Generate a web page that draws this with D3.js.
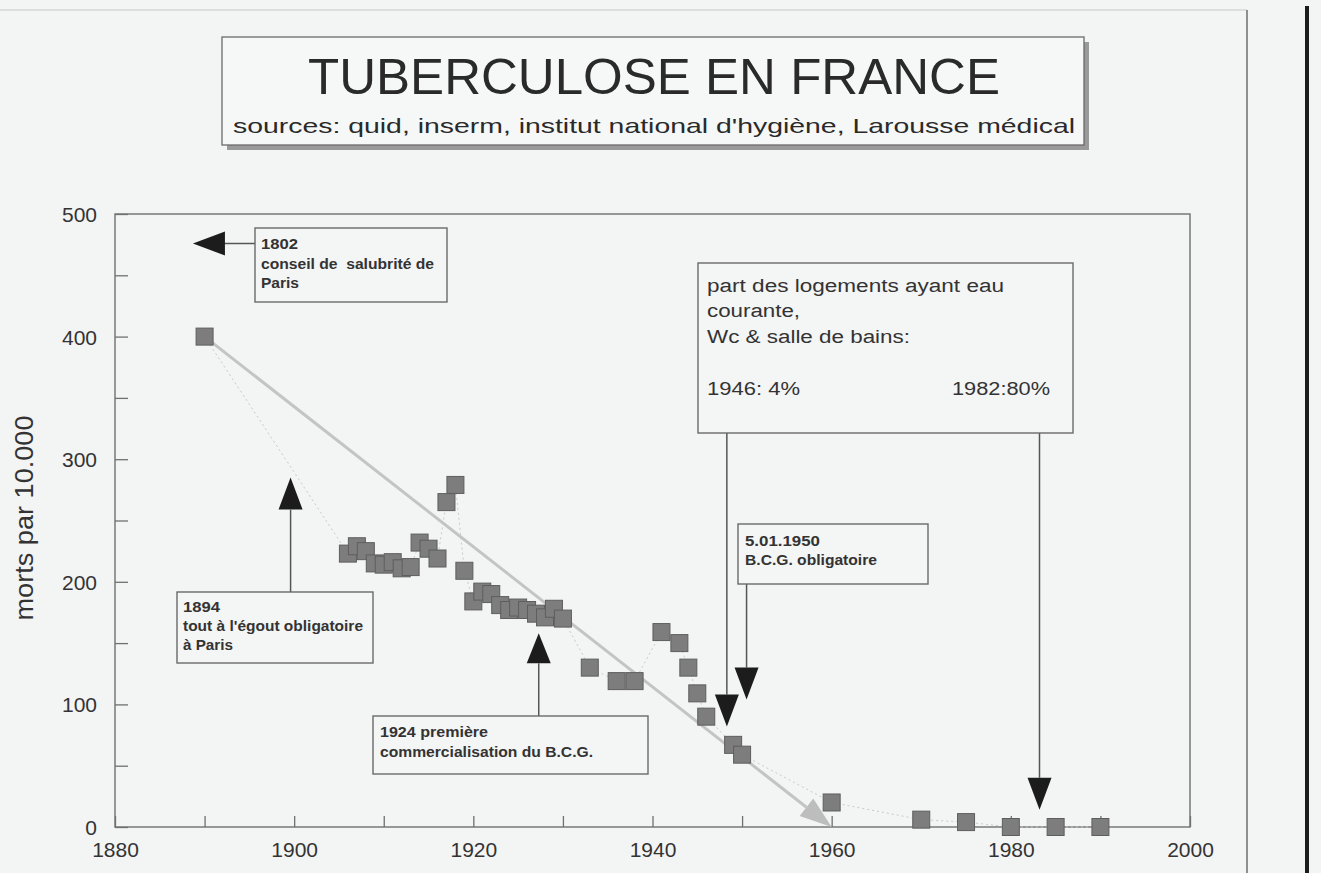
<!DOCTYPE html>
<html><head><meta charset="utf-8">
<script src="https://cdn.jsdelivr.net/npm/d3@7"></script>
<style>body{margin:0;background:#f3f4f4;overflow:hidden}</style>
</head><body>
<svg id="c" width="1321" height="873"></svg>
<script>
// ---- data ----
const years  = [1890,1906,1907,1908,1909,1910,1911,1912,1913,1914,1915,1916,1917,1918,1919,1920,1921,1922,1923,1924,1925,1926,1927,1928,1929,1930,1933,1936,1938,1941,1943,1944,1945,1946,1949,1950,1960,1970,1975,1980,1985,1990];
const deaths = [400,223,229,225,215,214,216,211,212,232,227,219,265,279,209,184,192,190,181,177,179,177,174,171,178,170,130,119,119,159,150,130,109,90,67,59,20,6,4,0,0,0];
const xLabelTicks = [1880,1900,1920,1940,1960,1980,2000];
const xMinorTicks = [1880,1890,1900,1910,1920,1930,1940,1950,1960,1970,1980,1990,2000];
const yLabelTicks = [0,100,200,300,400,500];
const yMinorTicks = [0,50,100,150,200,250,300,350,400,450,500];
const trendStart = [1890,400], trendEnd = [1960,0];
const titleText = "TUBERCULOSE EN FRANCE";
const subtitleText = "sources: quid, inserm, institut national d'hygiène, Larousse médical";
const yTitle = "morts par 10.000";
const note1802 = ["1802","conseil de  salubrité de","Paris"];
const note1894 = ["1894","tout à l'égout obligatoire","à Paris"];
const note1924 = ["1924 première","commercialisation du B.C.G."];
const note1950 = ["5.01.1950","B.C.G. obligatoire"];
const housingLines = ["part des logements ayant eau","courante,","Wc & salle de bains:"];
const housingValues = ["1946: 4%","1982:80%"];
// arrow tips in data coordinates [year, value]
const arrow1802 = [1888.7,476], arrow1894 = [1899.6,285], arrow1924 = [1927.3,158],
      arrow1950 = [1950.5,104], arrow1946 = [1948.3,82], arrow1982 = [1983.2,14];

// ---- scales ----
const svg = d3.select("#c");
const x = d3.scaleLinear().domain([1880,2000]).range([115,1190]);
const y = d3.scaleLinear().domain([0,500]).range([827,214]);
const FONT = "'Liberation Sans', Arial, Helvetica, sans-serif";
const NARROW = "'Liberation Sans Narrow', 'Liberation Sans', Arial, sans-serif";

svg.append("rect").attr("width",1321).attr("height",873).attr("fill","#f3f4f4");
// scan borders
svg.append("line").attr("x1",0).attr("x2",1247).attr("y1",10).attr("y2",10).attr("stroke","#c8c8c8").attr("stroke-width",1);
svg.append("line").attr("x1",1247).attr("x2",1247).attr("y1",10).attr("y2",873).attr("stroke","#6e6e6e").attr("stroke-width",1.5);
svg.append("line").attr("x1",1307).attr("x2",1307).attr("y1",6).attr("y2",873).attr("stroke","#1c1c1c").attr("stroke-width",4);

// ---- title box ----
svg.append("rect").attr("x",227).attr("y",42).attr("width",862).attr("height",108).attr("fill","#9a9a9a");
svg.append("rect").attr("x",222).attr("y",37).attr("width",862).attr("height",108).attr("fill","#f6f7f7").attr("stroke","#6a6a6a").attr("stroke-width",1.3);
svg.append("text").attr("x",308).attr("y",94).attr("font-family",FONT).attr("font-size",50).attr("fill","#2a2a2a")
  .attr("textLength",692).attr("lengthAdjust","spacingAndGlyphs").text(titleText);
svg.append("text").attr("x",233).attr("y",133).attr("font-family",FONT).attr("font-size",21).attr("fill","#2a2a2a")
  .attr("textLength",842).attr("lengthAdjust","spacingAndGlyphs").text(subtitleText);

// ---- plot frame ----
svg.append("rect").attr("x",x(1880)).attr("y",y(500)).attr("width",x(2000)-x(1880)).attr("height",y(0)-y(500))
  .attr("fill","none").attr("stroke","#707070").attr("stroke-width",1.4);

// axes
const gxMinor = svg.append("g").attr("transform",`translate(0,${y(0)})`)
  .call(d3.axisBottom(x).tickValues(xMinorTicks).tickSize(-11).tickFormat(""));
const gxLab = svg.append("g").attr("transform",`translate(0,${y(0)})`)
  .call(d3.axisBottom(x).tickValues(xLabelTicks).tickSize(0).tickPadding(15).tickFormat(d3.format("d")));
const gyMinor = svg.append("g").attr("transform",`translate(${x(1880)},0)`)
  .call(d3.axisLeft(y).tickValues(yMinorTicks).tickSize(-13).tickFormat(""));
const gyLab = svg.append("g").attr("transform",`translate(${x(1880)},0)`)
  .call(d3.axisLeft(y).tickValues(yLabelTicks).tickSize(0).tickPadding(18).tickFormat(d3.format("d")));
[gxMinor,gxLab,gyMinor,gyLab].forEach(g=>{
  g.select(".domain").remove();
  g.selectAll(".tick line").attr("stroke","#707070").attr("stroke-width",1.3);
  g.selectAll("text").attr("font-family",FONT).attr("font-size",21).attr("fill","#333");
});
gyLab.selectAll("text").attr("dy","0.36em");

svg.append("text").attr("transform",`translate(33,518) rotate(-90)`).attr("text-anchor","middle")
  .attr("font-family",FONT).attr("font-size",25).attr("fill","#333")
  .attr("textLength",205).attr("lengthAdjust","spacingAndGlyphs").text(yTitle);

// ---- dotted connecting line ----
const pts = years.map((yr,i)=>[yr,deaths[i]]);
svg.append("path").datum(pts)
  .attr("d",d3.line().x(d=>x(d[0])).y(d=>y(d[1])))
  .attr("fill","none").attr("stroke","#c9c9c9").attr("stroke-width",1).attr("stroke-dasharray","2,3");

// ---- trend arrow ----
{
  const x0=x(trendStart[0]), y0=y(trendStart[1]), x1=x(trendEnd[0]), y1=y(trendEnd[1]);
  const dx=x1-x0, dy=y1-y0, L=Math.hypot(dx,dy), ux=dx/L, uy=dy/L, px=-uy, py=ux;
  const hl=32, hw=11, bx=x1-hl*ux, by=y1-hl*uy;
  svg.append("line").attr("x1",x0).attr("y1",y0).attr("x2",bx).attr("y2",by)
    .attr("stroke","#c4c4c4").attr("stroke-width",3);
  svg.append("path").attr("d",`M${x1},${y1}L${bx+hw*px},${by+hw*py}L${bx-hw*px},${by-hw*py}Z`).attr("fill","#bdbdbd");
}

// ---- squares ----
const S=17;
svg.append("g").selectAll("rect").data(pts).join("rect")
  .attr("x",d=>x(d[0])-S/2).attr("y",d=>y(d[1])-S/2).attr("width",S).attr("height",S)
  .attr("fill","#7d7d7d").attr("stroke","#5e5e5e").attr("stroke-width",1);

// ---- annotation helpers ----
function box(x0,y0,w,h){
  svg.append("rect").attr("x",x0).attr("y",y0).attr("width",w).attr("height",h)
    .attr("fill","#f4f5f5").attr("stroke","#6a6a6a").attr("stroke-width",1.4);
}
function lines(arr,x0,baselines,widths,size,weight,family){
  arr.forEach((t,i)=>{
    const el=svg.append("text").attr("x",x0).attr("y",baselines[i]).attr("font-family",family)
      .attr("font-size",size).attr("font-weight",weight).attr("fill","#333")
      .style("white-space","pre").text(t);
    if(widths && widths[i]) el.attr("textLength",widths[i]).attr("lengthAdjust","spacingAndGlyphs");
  });
}
function vline(xx,ya,yb){svg.append("line").attr("x1",xx).attr("x2",xx).attr("y1",ya).attr("y2",yb).attr("stroke","#555").attr("stroke-width",1.5);}
function triDown(tx,ty,len,hw){svg.append("path").attr("d",`M${tx},${ty}L${tx-hw},${ty-len}L${tx+hw},${ty-len}Z`).attr("fill","#1c1c1c");}
function triUp(tx,ty,len,hw){svg.append("path").attr("d",`M${tx},${ty}L${tx-hw},${ty+len}L${tx+hw},${ty+len}Z`).attr("fill","#1c1c1c");}
function triLeft(tx,ty,len,hw){svg.append("path").attr("d",`M${tx},${ty}L${tx+len},${ty-hw}L${tx+len},${ty+hw}Z`).attr("fill","#1c1c1c");}

// 1802
{
  const tx=x(arrow1802[0]), ty=y(arrow1802[1]);
  svg.append("line").attr("x1",tx+30).attr("x2",255).attr("y1",ty).attr("y2",ty).attr("stroke","#555").attr("stroke-width",1.5);
  triLeft(tx,ty,32,12);
  box(255,228,192,74);
  lines(note1802,261,[249,269,288],[37,173,38],14,"bold",NARROW);
}
// 1894
{
  const tx=x(arrow1894[0]), ty=y(arrow1894[1]);
  triUp(tx,ty,32,12); vline(tx,ty+32,592);
  box(177,592,196,71);
  lines(note1894,183,[612,631,650],[37,180,50],14,"bold",NARROW);
}
// 1924
{
  const tx=x(arrow1924[0]), ty=y(arrow1924[1]);
  triUp(tx,ty,30,12); vline(tx,ty+30,716);
  box(373,716,275,58);
  lines(note1924,380,[737,757],[108,213],14,"bold",NARROW);
}
// 1950
{
  const tx=x(arrow1950[0]), ty=y(arrow1950[1]);
  vline(tx,584,ty-32); triDown(tx,ty,32,12);
  box(738,524,190,60);
  lines(note1950,745,[546,565],[75,132],14,"bold",NARROW);
}
// housing box
{
  const t1x=x(arrow1946[0]), t1y=y(arrow1946[1]);
  const t2x=x(arrow1982[0]), t2y=y(arrow1982[1]);
  vline(t1x,433,t1y-32); triDown(t1x,t1y,32,12);
  vline(t2x,433,t2y-32); triDown(t2x,t2y,32,12);
  box(698,263,375,170);
  lines(housingLines,707,[292,317,343],[297,93,203],18,"normal",FONT);
  lines([housingValues[0]],707,[395],[93],18,"normal",FONT);
  lines([housingValues[1]],952,[395],[98],18,"normal",FONT);
}
</script>
</body></html>
